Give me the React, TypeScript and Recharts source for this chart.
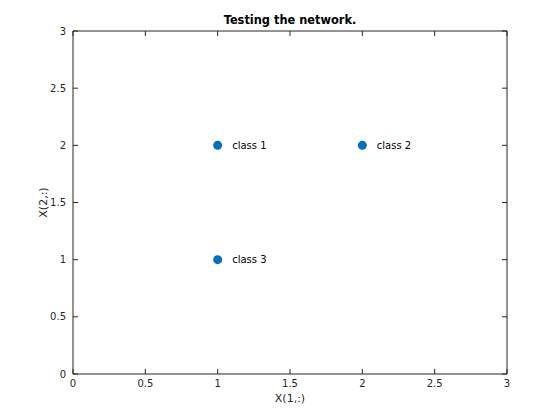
import { ScatterChart, Scatter, XAxis, YAxis, ZAxis, LabelList, Label } from 'recharts';

const classNames = ['class 1', 'class 2', 'class 3'];
const xValues = [1, 2, 1];
const yValues = [2, 2, 1];
const xTicks = [0, 0.5, 1, 1.5, 2, 2.5, 3];
const yTicks = [0, 0.5, 1, 1.5, 2, 2.5, 3];

const points = classNames.map((name, i) => ({ name, x: xValues[i], y: yValues[i] }));

const axisColor = '#262626';
const font = 'DejaVu Sans, sans-serif';
const tickLen = 5;
const tSize = 1;
const xMargin = 12;
const yMargin = 6;

// MATLAB-style ticks point into the box, so draw them by hand
function BottomTick(props: any) {
  const { x, y, payload } = props;
  const axisY = y - xMargin - tSize;
  return (
    <g>
      <line x1={x} x2={x} y1={axisY} y2={axisY - tickLen} stroke={axisColor} />
      <text x={x} y={y} textAnchor="middle" fontSize={10} fill={axisColor} fontFamily={font}>{payload.value}</text>
    </g>
  );
}

function LeftTick(props: any) {
  const { x, y, payload } = props;
  const axisX = x + yMargin + tSize;
  return (
    <g>
      <line x1={axisX} x2={axisX + tickLen} y1={y} y2={y} stroke={axisColor} />
      <text x={x} y={y} dy={3.5} textAnchor="end" fontSize={10} fill={axisColor} fontFamily={font}>{payload.value}</text>
    </g>
  );
}

function TopTick(props: any) {
  const { x, y } = props;
  const axisY = y + tSize;
  return <line x1={x} x2={x} y1={axisY} y2={axisY + tickLen} stroke={axisColor} />;
}

function RightTick(props: any) {
  const { x, y } = props;
  const axisX = x - tSize;
  return <line x1={axisX} x2={axisX - tickLen} y1={y} y2={y} stroke={axisColor} />;
}

export default function App() {
  return (
    <div style={{ position: 'absolute', left: 0, top: 0, background: '#fff' }}>
      <ScatterChart width={560} height={420} margin={{ top: 30, right: 52, bottom: 16, left: 33 }}>
        <ZAxis range={[50, 50]} />
        <XAxis
          dataKey="x"
          type="number"
          domain={[0, 3]}
          ticks={xTicks}
          height={30}
          tickSize={tSize}
          tickLine={false}
          tickMargin={xMargin}
          stroke={axisColor}
          tick={<BottomTick />}
        >
          <Label value="X(1,:)" position="insideBottom" offset={2} style={{ fontSize: 11, fill: axisColor, fontFamily: font }} />
        </XAxis>
        <XAxis
          xAxisId="top"
          dataKey="x"
          orientation="top"
          type="number"
          domain={[0, 3]}
          ticks={xTicks}
          height={1}
          tickSize={tSize}
          tickLine={false}
          tickMargin={0}
          tick={<TopTick />}
          stroke={axisColor}
        >
          <Label value="Testing the network." position="top" offset={6} style={{ fontSize: 11.4, fontWeight: 'bold', fill: '#000', fontFamily: font }} />
        </XAxis>
        <YAxis
          dataKey="y"
          type="number"
          domain={[0, 3]}
          ticks={yTicks}
          width={40}
          tickSize={tSize}
          tickLine={false}
          tickMargin={yMargin}
          stroke={axisColor}
          tick={<LeftTick />}
        >
          <Label value="X(2,:)" angle={-90} position="insideLeft" offset={10} style={{ textAnchor: 'middle', fontSize: 11, fill: axisColor, fontFamily: font }} />
        </YAxis>
        <YAxis
          yAxisId="right"
          dataKey="y"
          orientation="right"
          type="number"
          domain={[0, 3]}
          ticks={yTicks}
          width={1}
          tickSize={tSize}
          tickLine={false}
          tickMargin={0}
          tick={<RightTick />}
          stroke={axisColor}
        />
        <Scatter data={points} fill="#0072BD" isAnimationActive={false}>
          <LabelList dataKey="name" position="right" offset={10} style={{ fontSize: 10, fill: '#000', fontFamily: font }} />
        </Scatter>
        <Scatter data={points} xAxisId="top" yAxisId="right" fill="none" shape={() => <g />} isAnimationActive={false} />
      </ScatterChart>
    </div>
  );
}
